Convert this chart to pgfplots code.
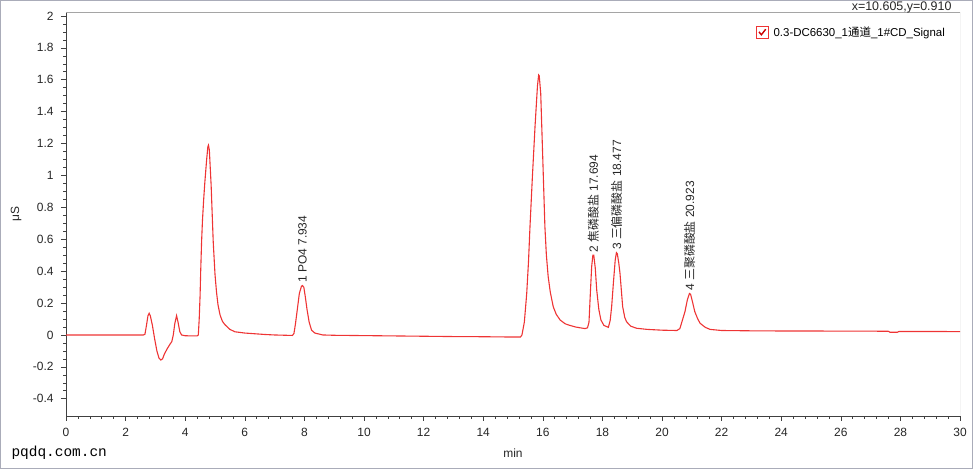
\documentclass[border=0pt]{standalone}
\usepackage{fontspec}
\setmainfont{Liberation Sans}
\setmonofont{Liberation Mono}
\newfontfamily\cjk{Noto Sans CJK SC}
\usepackage{pgfplots}
\pgfplotsset{compat=1.18}
\definecolor{trace}{RGB}{238,52,52}
\definecolor{frame}{RGB}{165,165,165}
\definecolor{border}{RGB}{170,172,185}

\begin{document}
\begin{tikzpicture}[x=1bp,y=1bp]
\begin{axis}[
  at={(66bp,53bp)}, anchor=south west,
  scale only axis, width=894bp, height=404bp,
  xmin=0, xmax=30, ymin=-0.508, ymax=2.025,
  axis x line*=bottom, axis y line*=left,
  axis line style={draw=black!75, line width=0.8pt},
  tick align=outside,
  major tick length=5bp, minor tick length=3bp,
  every tick/.style={black!75, line width=0.6pt},
  xtick={0,2,4,6,8,10,12,14,16,18,20,22,24,26,28,30},
  minor x tick num=4,
  ytick={-0.4,-0.2,0,0.2,0.4,0.6,0.8,1,1.2,1.4,1.6,1.8,2},
  yticklabels={-0.4,-0.2,0,0.2,0.4,0.6,0.8,1,1.2,1.4,1.6,1.8,2},
  minor y tick num=3,
  xticklabel shift=4bp, yticklabel shift=4bp,
  /pgf/number format/assume math mode=true,
  tick label style={font=\fontsize{12}{14}\selectfont, text=black!85},
  xlabel={min}, ylabel={μS},
  label style={font=\fontsize{12}{14}\selectfont, text=black!85},
  xlabel style={at={(axis description cs:0.5,0)}, anchor=center, yshift=-37bp},
  ylabel style={at={(axis description cs:-0.0559,0.5)}, anchor=center},
  legend style={draw=none, fill=none, at={(axis description cs:0.768,0.95)}, anchor=west,
    font=\fontsize{11.5}{13}\selectfont},
  legend cell align=left,
  legend image code/.code={
    \draw[trace, line width=0.8pt, fill=white] (0bp,-6bp) rectangle (12bp,6bp);
    \draw[red!80!black, line width=1.4pt] (2.8bp,0.3bp) -- (5.2bp,-2.6bp) -- (9.5bp,3bp);
  },
]
\addplot[trace, line width=1.1bp] coordinates {
(0,0) (2.6,0) (2.65,0.005) (2.7,0.06) (2.75,0.12) (2.79,0.136) (2.83,0.12) (2.9,0.06)
(2.97,-0.02) (3.05,-0.10) (3.12,-0.145) (3.18,-0.157) (3.24,-0.15) (3.3,-0.12) (3.4,-0.085)
(3.5,-0.055) (3.55,-0.042) (3.6,0.0) (3.65,0.07) (3.71,0.121) (3.76,0.08) (3.82,0.02)
(3.88,0.0) (4.0,-0.005) (4.4,-0.006) (4.44,0.0) (4.47,0.1) (4.50,0.25) (4.52,0.4) (4.55,0.585)
(4.58,0.72) (4.62,0.85) (4.66,0.96) (4.72,1.1) (4.76,1.18) (4.78,1.19) (4.81,1.16) (4.87,0.94)
(4.94,0.585) (5.0,0.38) (5.05,0.27) (5.1,0.19) (5.17,0.125) (5.25,0.085) (5.34,0.063)
(5.5,0.035) (5.67,0.02) (6.0,0.012) (6.68,0.003) (7.0,0.0) (7.6,-0.003) (7.65,0.01)
(7.7,0.07) (7.76,0.157) (7.83,0.26) (7.9,0.305) (7.93,0.31) (7.98,0.3) (8.03,0.24)
(8.09,0.157) (8.16,0.08) (8.24,0.03) (8.35,0.012) (8.62,0.0) (9,-0.002) (10,-0.004)
(11,-0.006) (12,-0.008) (13,-0.01) (14,-0.011) (15,-0.013) (15.25,-0.013) (15.3,0.0)
(15.38,0.08) (15.46,0.26) (15.52,0.46) (15.57,0.68) (15.65,0.99) (15.74,1.31) (15.82,1.56)
(15.86,1.63) (15.88,1.625) (15.93,1.515) (16.0,1.10) (16.07,0.68) (16.12,0.50) (16.18,0.366)
(16.25,0.27) (16.35,0.177) (16.45,0.13) (16.58,0.094) (16.75,0.07) (16.91,0.06) (17.1,0.05)
(17.25,0.045) (17.42,0.04) (17.5,0.045) (17.55,0.08) (17.6,0.28) (17.64,0.43) (17.68,0.50)
(17.71,0.50) (17.76,0.42) (17.81,0.28) (17.88,0.16) (17.95,0.094) (18.05,0.06) (18.2,0.048)
(18.26,0.09) (18.31,0.177) (18.37,0.33) (18.43,0.47) (18.47,0.516) (18.5,0.51) (18.55,0.45)
(18.59,0.387) (18.68,0.177) (18.75,0.11) (18.81,0.083) (18.95,0.055) (19.15,0.042)
(19.5,0.035) (20,0.03) (20.5,0.028) (20.6,0.04) (20.68,0.09) (20.77,0.146) (20.85,0.22)
(20.92,0.26) (20.96,0.255) (21.02,0.21) (21.1,0.146) (21.2,0.1) (21.28,0.073) (21.45,0.048)
(21.61,0.035) (22,0.028) (23,0.026) (24,0.025) (25,0.025) (26,0.024) (27,0.024) (27.6,0.023)
(27.65,0.017) (27.9,0.017) (27.95,0.022) (29,0.022) (30,0.021)
};
\addlegendentry{\hspace{3bp}0.3-DC6630\_1{\cjk 通道}\_1\#CD\_Signal}

\draw[frame, line width=0.8pt] (rel axis cs:0,1) -- (rel axis cs:1,1) -- (rel axis cs:1,0);

\begin{scope}[every node/.style={rotate=90, anchor=west, inner sep=2.5bp,
    font=\fontsize{12}{14}\selectfont, text=black!85}]
\node at (axis cs:7.934,0.31) {1 PO4 7.934};
\node at (axis cs:17.694,0.50) {2 {\cjk 焦磷酸盐} 17.694};
\node at (axis cs:18.477,0.516) {3 {\cjk 三偏磷酸盐} 18.477};
\node at (axis cs:20.923,0.26) {4 {\cjk 三聚磷酸盐} 20.923};
\end{scope}
\end{axis}

\node[anchor=west, font=\fontsize{14.5}{16}\selectfont\ttfamily] at (8,16) {pqdq.com.cn};
\node[anchor=east, font=\fontsize{12.5}{14}\selectfont, text=black!85] at (955,462) {x=10.605,y=0.910};
\draw[border, line width=1bp] (0.5,0.5) rectangle (972.5,468.5);
\pgfresetboundingbox
\path (0,0) rectangle (973,469);
\end{tikzpicture}
\end{document}
